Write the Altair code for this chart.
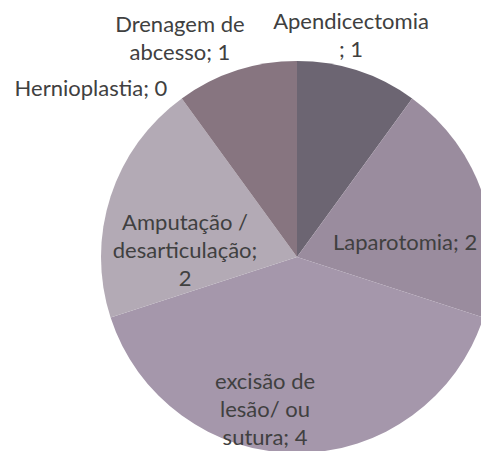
import altair as alt
import pandas as pd

categories = ["Apendicectomia", "Laparotomia", "excisão de lesão/ ou sutura",
              "Amputação / desarticulação", "Hernioplastia", "Drenagem de abcesso"]
values = [1, 2, 4, 2, 0, 1]
label_texts = ["Apendicectomia\n; 1", "Laparotomia; 2", "excisão de\nlesão/ ou\nsutura; 4",
               "Amputação /\ndesarticulação;\n2", "Hernioplastia; 0", "Drenagem de\nabcesso; 1"]
colors = ["#6c6572", "#9a8c9e", "#a597ab", "#b3aab5", "#b0aab0", "#877580"]

# label placement (polar, from pie centre, first text line): angle in radians, radius in px
label_angle = [0.226, 1.442, 3.392, 5.007, 5.397, 5.816]
label_radius = [241, 109, 129, 117, 266, 260]

df = pd.DataFrame({
    "cat": categories,
    "value": values,
    "order": list(range(len(categories))),
    "label": label_texts,
    "la": label_angle,
    "lr": label_radius,
})

cx, cy = 289, 249

pie = alt.Chart(df).mark_arc(radius=196, stroke=None).encode(
    theta=alt.Theta("value:Q", stack=True),
    order=alt.Order("order:Q"),
    color=alt.Color("cat:N", scale=alt.Scale(domain=categories, range=colors), legend=None),
    x=alt.value(cx), y=alt.value(cy),
)

labels = alt.Chart(df).mark_text(
    font="Lato", fontSize=22, color="#404040", lineBreak="\n", lineHeight=28,
    align="center", baseline="middle",
).encode(
    theta=alt.Theta("la:Q", scale=None, stack=None),
    radius=alt.Radius("lr:Q", scale=None),
    text="label:N",
    x=alt.value(cx), y=alt.value(cy),
)

chart = alt.layer(pie, labels).properties(
    width=473, height=443, padding=0, autosize=alt.AutoSizeParams(type="none")
).configure_view(stroke=None)

chart.save("out.html", embed_options={"renderer": "svg", "actions": False})
